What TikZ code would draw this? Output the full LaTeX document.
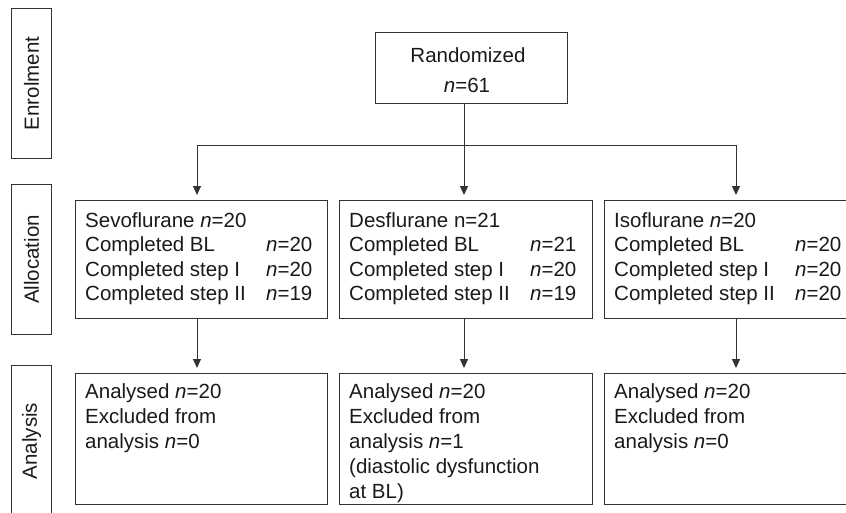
\documentclass[tikz,border=0pt]{standalone}
\usepackage{fontspec}
\setmainfont{Liberation Sans}
\usetikzlibrary{arrows.meta}
\definecolor{linec}{HTML}{333333}
\definecolor{textc}{HTML}{1A1A1A}
\begin{document}
\begin{tikzpicture}[x=1pt,y=-1pt,
  box/.style={draw=linec, line width=0.9pt, rectangle, inner sep=0pt, anchor=north west},
  txt/.style={inner sep=0pt, anchor=base west, font=\fontsize{20.5}{24.5}\selectfont, text=textc},
  antxt/.style={txt, font=\fontsize{20.5}{25}\selectfont},
  side/.style={inner sep=0pt, anchor=center, rotate=90, font=\fontsize{20.5}{23.5}\selectfont, text=textc},
  ln/.style={draw=linec, line width=0.9pt},
  arr/.style={draw=linec, line width=0.9pt, -{Triangle[length=9pt,width=8pt]}, shorten >=5pt}]
\useasboundingbox (0,0) rectangle (846,512);

% side label boxes
\node[box, minimum width=40pt, minimum height=150pt] (enr) at (11,8) {};
\node[side] (enrt) at (enr.center) {Enrolment};
\node[box, minimum width=40pt, minimum height=150pt] (alc) at (11,184) {};
\node[side] (alct) at (alc.center) {Allocation};
\node[box, minimum width=40pt, minimum height=149pt] (ana) at (11,365) {};
\node[side] (anat) at ([yshift=-1pt]ana.center) {Analysis};

% randomized
\node[box, minimum width=192pt, minimum height=71pt] (rand) at (375,32) {};
\node[txt, anchor=base] (randt1) at (468,62) {Randomized};
\node[txt, anchor=base] (randt2) at (467,92) {\textit{n}=61};

% allocation boxes
\node[box, minimum width=252pt, minimum height=118pt] (sevo) at (75,200) {};
\node[box, minimum width=253pt, minimum height=118pt] (des) at (339,200) {};
\node[box, minimum width=253pt, minimum height=118pt] (iso) at (604,200) {};

\node[txt] (sevot) at (85,227) {\begin{tabular}[t]{@{}p{181pt}@{}l@{}}
\multicolumn{2}{@{}l@{}}{Sevoflurane \textit{n}=20}\\
Completed BL & \textit{n}=20\\
Completed step I & \textit{n}=20\\
Completed step II & \textit{n}=19
\end{tabular}};
\node[txt] (dest) at (349,227) {\begin{tabular}[t]{@{}p{181pt}@{}l@{}}
\multicolumn{2}{@{}l@{}}{Desflurane n=21}\\
Completed BL & \textit{n}=21\\
Completed step I & \textit{n}=20\\
Completed step II & \textit{n}=19
\end{tabular}};
\node[txt] (isot) at (614,227) {\begin{tabular}[t]{@{}p{181pt}@{}l@{}}
\multicolumn{2}{@{}l@{}}{Isoflurane \textit{n}=20}\\
Completed BL & \textit{n}=20\\
Completed step I & \textit{n}=20\\
Completed step II & \textit{n}=20
\end{tabular}};

% analysis boxes
\node[box, minimum width=252pt, minimum height=131pt] (an1) at (75,373) {};
\node[box, minimum width=253pt, minimum height=131pt] (an2) at (339,373) {};
\node[box, minimum width=253pt, minimum height=131pt] (an3) at (604,373) {};

\node[antxt] (an1t) at (85,398) {\begin{tabular}[t]{@{}l@{}}
Analysed \textit{n}=20\\ Excluded from\\ analysis \textit{n}=0
\end{tabular}};
\node[antxt] (an2t) at (349,398) {\begin{tabular}[t]{@{}l@{}}
Analysed \textit{n}=20\\ Excluded from\\ analysis \textit{n}=1\\ (diastolic dysfunction\\ at BL)
\end{tabular}};
\node[antxt] (an3t) at (614,398) {\begin{tabular}[t]{@{}l@{}}
Analysed \textit{n}=20\\ Excluded from\\ analysis \textit{n}=0
\end{tabular}};

% connectors
\coordinate (jl) at (197,145);
\coordinate (jm) at (464,145);
\coordinate (jr) at (736,145);
\draw[ln] (rand.south -| jm) -- (jm);
\draw[ln] (jl) -- (jr);
\draw[arr] (jl) -- (jl |- sevo.north);
\draw[arr] (jm) -- (jm |- des.north);
\draw[arr] (jr) -- (jr |- iso.north);
\draw[arr] (sevo.south -| jl) -- (jl |- an1.north);
\draw[arr] (des.south -| jm) -- (jm |- an2.north);
\draw[arr] (iso.south -| jr) -- (jr |- an3.north);
\end{tikzpicture}
\end{document}
